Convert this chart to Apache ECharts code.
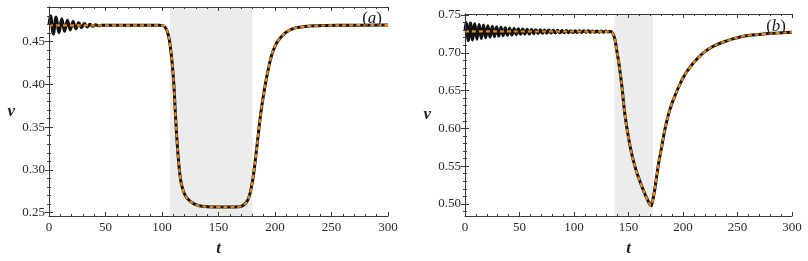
<!DOCTYPE html>
<html><head><meta charset="utf-8">
<script src="https://cdn.jsdelivr.net/npm/echarts@6/dist/echarts.min.js"></script>
<style>html,body{margin:0;padding:0;background:#fff}#c{width:808px;height:261px}</style>
</head><body><div id="c"></div>
<script>
// ---------- Panel (a) ----------
const tAosc = [0, 1.3, 3.8, 6.3, 8.8, 11.3, 13.8, 16.3, 18.8, 21.3, 23.8, 26.3, 28.8, 31.3, 33.8, 36.3, 38.8, 41.3, 43.8, 46];
const vAosc = [0.470, 0.4805, 0.4590, 0.4790, 0.4605, 0.4770, 0.4622, 0.4752, 0.4638, 0.4735, 0.4652, 0.4722, 0.4664, 0.4712, 0.4673, 0.4705, 0.4680, 0.4699, 0.4686, 0.4692];
const tA = [0, 98, 101, 103, 105, 107, 109, 110.5, 112, 113.5, 115, 116.5, 118.5, 120.5, 124, 128, 133, 140, 150, 160, 168, 171, 173.5, 176, 178, 180.5, 183, 185.5, 188, 190.5, 193, 197, 201, 205, 210, 216, 222, 231, 245, 260, 300];
const vA = [0.4692, 0.4692, 0.4688, 0.4665, 0.461, 0.448, 0.425, 0.400, 0.362, 0.330, 0.305, 0.288, 0.277, 0.2705, 0.2645, 0.2605, 0.258, 0.257, 0.2565, 0.2565, 0.257, 0.258, 0.2605, 0.265, 0.273, 0.290, 0.316, 0.345, 0.372, 0.393, 0.411, 0.434, 0.4475, 0.455, 0.4612, 0.4652, 0.467, 0.4683, 0.469, 0.4692, 0.4695];
const shadeA = [107, 180];
const yTicksA = [0.25, 0.30, 0.35, 0.40, 0.45];

// ---------- Panel (b) ----------
const tBosc = [0, 1, 3, 5, 7, 9, 11, 13, 15, 17, 19, 21, 23, 25, 27, 29, 31, 33, 35, 37, 39, 41, 43, 45, 47, 49, 51, 53, 55, 57, 59, 61, 63, 65, 67, 69, 71, 73, 75, 77, 79, 81, 83, 85, 87, 89, 91, 93, 95, 97, 99, 101, 103, 105, 107, 109, 111, 113, 115, 117, 119, 121, 123, 125, 127, 129, 131, 133];
const vBosc = [0.7285, 0.740, 0.7162, 0.7395, 0.717, 0.7385, 0.718, 0.7375, 0.719, 0.7366, 0.7198, 0.7358, 0.7206, 0.735, 0.7214, 0.7343, 0.722, 0.7337, 0.7226, 0.7331, 0.7232, 0.7326, 0.7236, 0.7322, 0.724, 0.7318, 0.7244, 0.7314, 0.7248, 0.7311, 0.725, 0.7308, 0.7253, 0.7306, 0.7255, 0.7304, 0.7257, 0.7302, 0.7259, 0.730, 0.7261, 0.7298, 0.7263, 0.7297, 0.7264, 0.7295, 0.7265, 0.7294, 0.7266, 0.7293, 0.7267, 0.7292, 0.7268, 0.7291, 0.7269, 0.729, 0.727, 0.729, 0.7271, 0.7289, 0.7271, 0.7288, 0.7272, 0.7288, 0.7273, 0.7287, 0.7274, 0.7285];
const tB = [0, 120, 133, 135.5, 137.5, 139, 141, 144, 147, 151.5, 156, 162, 166, 169, 170.7, 172, 173.5, 175.5, 177.5, 180, 182.5, 185, 188, 192, 197, 202, 207, 213, 220, 227, 234, 243, 253, 263, 274, 286, 300];
const vB = [0.7282, 0.7281, 0.7278, 0.7258, 0.718, 0.705, 0.688, 0.655, 0.615, 0.576, 0.549, 0.524, 0.510, 0.501, 0.4978, 0.503, 0.514, 0.533, 0.553, 0.572, 0.592, 0.609, 0.625, 0.641, 0.658, 0.6715, 0.682, 0.692, 0.7015, 0.708, 0.7126, 0.717, 0.7213, 0.7235, 0.7249, 0.726, 0.7272];
const shadeB = [137, 172.5];
const yTicksB = [0.50, 0.55, 0.60, 0.65, 0.70, 0.75];

const xTicks = [0, 50, 100, 150, 200, 250, 300];

// ---------- helpers ----------
const FONT = "'Liberation Serif', 'Times New Roman', serif";
const AX = '#3a3a3a';
const ORANGE = '#e8891c';
const zip = (t, v) => t.map((x, i) => [x, v[i]]);
function blackData(tOsc, vOsc, t, v) {
  const last = tOsc[tOsc.length - 1];
  return zip(tOsc, vOsc).concat(zip(t, v).filter(p => p[0] > last));
}
const xMinor = [];
for (let i = 0; i <= 30; i++) if (i % 5 !== 0) xMinor.push(i * 10);
function yMinor(lo, hi) { const r = []; for (let i = lo; i <= hi; i++) if (i % 5 !== 0) r.push(i / 100); return r; }

function axesFor(dim, grid, min, max, majors, minors, fmt, nameCfg) {
  const common = { type: 'value', gridIndex: grid, min: min, max: max, splitLine: { show: false }, z: 5 };
  const posA = dim === 'x' ? 'bottom' : 'left';
  const posB = dim === 'x' ? 'top' : 'right';
  const line = { show: true, lineStyle: { color: AX, width: 1 } };
  const tick = (vals, len) => ({ show: true, inside: true, length: len, customValues: vals, lineStyle: { color: AX, width: 1 } });
  return [
    Object.assign({}, common, { position: posA, axisLine: line, axisTick: tick(majors, 4),
      axisLabel: { show: true, customValues: majors, formatter: fmt, fontFamily: FONT, fontSize: 13, color: '#2a2a2a', margin: dim === 'x' ? 5 : 4 } }, nameCfg),
    Object.assign({}, common, { position: posA, axisLine: { show: false }, axisTick: tick(minors, 2), axisLabel: { show: false } }),
    Object.assign({}, common, { position: posB, axisLine: line, axisTick: tick(majors, 4), axisLabel: { show: false } }),
    Object.assign({}, common, { position: posB, axisLine: { show: false }, axisTick: tick(minors, 2), axisLabel: { show: false } })
  ];
}
const nameStyle = { fontFamily: FONT, fontStyle: 'italic', fontWeight: 'bold', fontSize: 17, color: '#222' };
const xName = { name: 't', nameLocation: 'middle', nameGap: 24, nameTextStyle: nameStyle };
const yName = { name: 'v', nameLocation: 'middle', nameGap: 34, nameRotate: 0, nameTextStyle: nameStyle };
const fx = v => String(v);
const fy = v => v.toFixed(2);

const xAxes = axesFor('x', 0, 0, 300, xTicks, xMinor, fx, xName).concat(axesFor('x', 1, 0, 300, xTicks, xMinor, fx, xName));
const yAxes = axesFor('y', 0, 0.2461, 0.4906, yTicksA, yMinor(25, 49), fy, yName).concat(axesFor('y', 1, 0.4841, 0.7513, yTicksB, yMinor(49, 75), fy, yName));

function seriesFor(xi, black, orange, shade) {
  return [
    { type: 'line', xAxisIndex: xi, yAxisIndex: xi, data: black, showSymbol: false, smooth: 0.4, z: 3,
      lineStyle: { color: '#111', width: 3 }, silent: true,
      markArea: { silent: true, itemStyle: { color: '#ececec' }, data: [[{ xAxis: shade[0] }, { xAxis: shade[1] }]] } },
    { type: 'line', xAxisIndex: xi, yAxisIndex: xi, data: orange, showSymbol: false, smooth: 0.4, z: 4, silent: true,
      lineStyle: { color: ORANGE, width: 2.2, type: [4, 3] } }
  ];
}

const chart = echarts.init(document.getElementById('c'), null, { renderer: 'canvas' });
chart.setOption({
  animation: false,
  backgroundColor: '#fff',
  grid: [
    { left: 49, top: 7, width: 339, height: 209, outerBoundsMode: 'none', containLabel: false },
    { left: 465, top: 14, width: 327, height: 202, outerBoundsMode: 'none', containLabel: false }
  ],
  xAxis: xAxes,
  yAxis: yAxes,
  series: seriesFor(0, blackData(tAosc, vAosc, tA, vA), zip(tA, vA), shadeA)
    .concat(seriesFor(4, blackData(tBosc, vBosc, tB, vB), zip(tB, vB), shadeB)),
  graphic: [
    { type: 'text', x: 382, y: 19, z: 10, style: { text: '{p|(}{i|a}{p|)}', textAlign: 'right', textVerticalAlign: 'middle',
      rich: { p: { fontFamily: FONT, fontSize: 17, fill: '#222' }, i: { fontFamily: FONT, fontSize: 17, fontStyle: 'italic', fill: '#222' } } } },
    { type: 'text', x: 786, y: 27, z: 10, style: { text: '{p|(}{i|b}{p|)}', textAlign: 'right', textVerticalAlign: 'middle',
      rich: { p: { fontFamily: FONT, fontSize: 17, fill: '#222' }, i: { fontFamily: FONT, fontSize: 17, fontStyle: 'italic', fill: '#222' } } } }
  ]
});
</script></body></html>
